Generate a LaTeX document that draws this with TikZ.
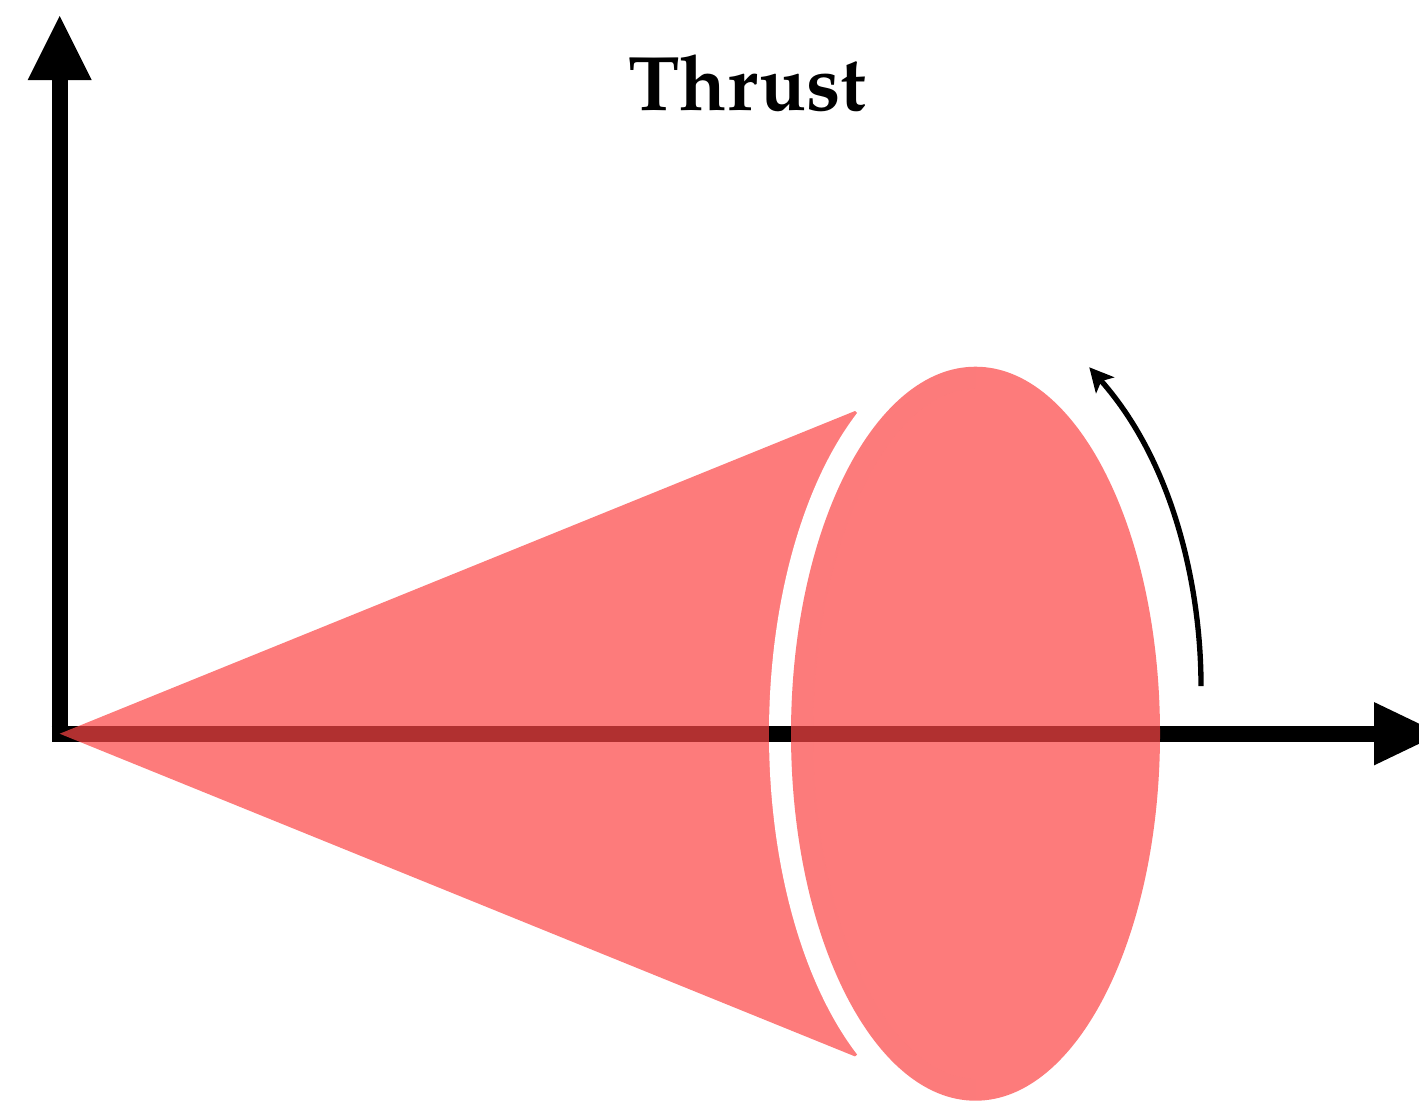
\documentclass[tikz,border=0pt]{standalone}
\usepackage{fontspec}
\newfontfamily\titlefont{TeX Gyre Pagella}
\usetikzlibrary{arrows.meta}
\definecolor{conered}{RGB}{252,68,68}
\begin{document}
\begin{tikzpicture}[x=0.75pt,y=-0.75pt,
  axis/.style={line width=12pt, black},
  conefill/.style={fill=conered, fill opacity=0.706},
  rot/.style={line width=4pt, black, -{Stealth[length=18.2pt,width=18.6pt,inset=4.5pt,line width=0pt]}}
]
\useasboundingbox (0,0) rectangle (1419,1100);
\coordinate (O) at (59.7,733.7);
\coordinate (C) at (975.5,733.7);
\coordinate (P1) at (855,411);
\coordinate (P2) at (855,1056.4);
\coordinate (Ytip) at (59.7,16);
\coordinate (Ybot) at (59.7,741.7);
\coordinate (Xl) at (51.7,733.7);
\coordinate (Xtip) at (1440,733.7);
% axes
\draw[axis, -{Triangle[length=48pt,width=48pt,line width=0pt]}] (Ybot) -- (Ytip);
\draw[axis, -{Triangle[length=49.5pt,width=47.5pt,line width=0pt]}] (Xl) -- (Xtip);
% cone
\path (C) ++(123.5:138.375pt and 275.25pt) coordinate (Q1);
\fill[conefill] (O) -- (P1) -- (Q1) arc[start angle=123.5, end angle=236.5, x radius=138.375pt, y radius=275.25pt] -- (P2) -- cycle;
% white gap
\begin{scope}
\clip (700,0) rectangle (975.5,1100);
\draw[white, line width=33pt] (C) ellipse[x radius=138.375pt, y radius=275.25pt];
\end{scope}
\coordinate (G1) at (769,733.7);
\coordinate (G2) at (814,733.7);
\draw[line width=12pt] (G1) -- (G2);
% disc
\fill[conefill] (C) ellipse[x radius=138.375pt, y radius=275.25pt];
% rotation arrow
\coordinate (A0) at (1201,686);
\coordinate (A2) at (1089.3,367.3);
\draw[rot] (A0) .. controls (1201,590) and (1175,465) .. (A2);
% title
\node[anchor=base, inner sep=0pt, font={\titlefont\bfseries\fontsize{58pt}{60pt}\selectfont}] (title) at (747.5,110) {Thrust};
\end{tikzpicture}
\end{document}
